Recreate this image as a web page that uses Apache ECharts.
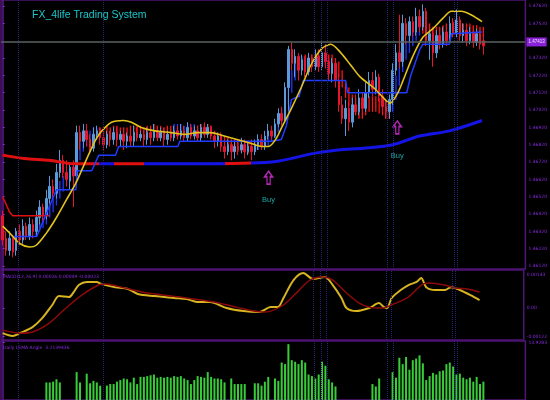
<!DOCTYPE html>
<html>
<head>
<meta charset="utf-8">
<script src="https://cdn.jsdelivr.net/npm/echarts@6/dist/echarts.min.js"></script>
<style>
  html, body { margin: 0; padding: 0; background: #000; }
  #chart { width: 550px; height: 400px; }
</style>
</head>
<body>
<div id="chart"></div>
<script>
// bar slots on the time axis (last ones empty, right margin of the terminal)
const slotCount = 156;
const slots = Array.from({ length: slotCount }, (_, i) => String(i));

// price axis labels
const priceTicks = [1.4612, 1.4622, 1.4632, 1.4642, 1.4652, 1.4662, 1.4672, 1.4682,
  1.4692, 1.4702, 1.4712, 1.4722, 1.4732, 1.4752, 1.4762];
const lastPrice = 1.47413;

// candles: [open, close, low, high]
const candles = [
  [1.4641,1.4627,1.4624,1.4644],[1.4628,1.4621,1.4618,1.4632],[1.4621,1.4628,1.4618,1.4632],
  [1.4628,1.4620,1.4617,1.4630],[1.4621,1.4632,1.4618,1.4634],[1.4632,1.4627,1.4624,1.4636],
  [1.4627,1.4635,1.4625,1.4639],[1.4635,1.4629,1.4627,1.4637],[1.4629,1.4636,1.4627,1.4640],
  [1.4636,1.4632,1.4628,1.4639],[1.4632,1.4640,1.4629,1.4644],[1.4640,1.4646,1.4636,1.4650],
  [1.4646,1.4641,1.4637,1.4648],[1.4641,1.4651,1.4639,1.4656],[1.4651,1.4658,1.4648,1.4664],
  [1.4658,1.4654,1.4650,1.4662],[1.4654,1.4666,1.4651,1.4671],[1.4666,1.4673,1.4663,1.4679],
  [1.4673,1.4666,1.4663,1.4676],[1.4666,1.4662,1.4658,1.4673],[1.4661,1.4669,1.4656,1.4671],
  [1.4669,1.4664,1.4646,1.4673],[1.4664,1.4689,1.4662,1.4693],[1.4689,1.4684,1.4679,1.4693],
  [1.4684,1.4690,1.4680,1.4694],[1.4690,1.4685,1.4681,1.4694],[1.4685,1.4680,1.4677,1.4688],
  [1.4680,1.4688,1.4678,1.4692],[1.4688,1.4690,1.4685,1.4693],[1.4690,1.4686,1.4682,1.4692],
  [1.4686,1.4682,1.4679,1.4689],[1.4682,1.4688,1.4680,1.4690],[1.4688,1.4685,1.4681,1.4690],
  [1.4685,1.4689,1.4682,1.4692],[1.4689,1.4685,1.4681,1.4692],[1.4685,1.4688,1.4681,1.4690],
  [1.4688,1.4684,1.4679,1.4692],[1.4684,1.4687,1.4680,1.4689],[1.4687,1.4684,1.4681,1.4690],
  [1.4684,1.4689,1.4681,1.4693],[1.4689,1.4686,1.4684,1.4692],[1.4686,1.4688,1.4684,1.4690],
  [1.4688,1.4685,1.4681,1.4690],[1.4685,1.4689,1.4682,1.4692],[1.4689,1.4686,1.4682,1.4692],
  [1.4686,1.4690,1.4684,1.4694],[1.4690,1.4686,1.4684,1.4693],[1.4686,1.4689,1.4684,1.4692],
  [1.4689,1.4685,1.4681,1.4692],[1.4685,1.4688,1.4682,1.4690],[1.4688,1.4686,1.4684,1.4690],
  [1.4686,1.4690,1.4684,1.4693],[1.4690,1.4687,1.4685,1.4693],[1.4687,1.4690,1.4685,1.4694],
  [1.4690,1.4686,1.4684,1.4693],[1.4686,1.4692,1.4684,1.4695],[1.4692,1.4687,1.4685,1.4694],
  [1.4687,1.4690,1.4685,1.4693],[1.4690,1.4686,1.4684,1.4693],[1.4686,1.4692,1.4684,1.4694],
  [1.4692,1.4688,1.4686,1.4695],[1.4688,1.4692,1.4686,1.4694],[1.4692,1.4687,1.4685,1.4693],
  [1.4687,1.4684,1.4680,1.4689],[1.4684,1.4687,1.4681,1.4689],[1.4687,1.4681,1.4678,1.4689],
  [1.4681,1.4678,1.4674,1.4685],[1.4678,1.4682,1.4676,1.4685],[1.4682,1.4678,1.4673,1.4685],
  [1.4678,1.4681,1.4674,1.4684],[1.4681,1.4679,1.4676,1.4685],[1.4679,1.4682,1.4677,1.4686],
  [1.4682,1.4678,1.4674,1.4685],[1.4678,1.4681,1.4676,1.4684],[1.4681,1.4678,1.4673,1.4685],
  [1.4678,1.4682,1.4676,1.4685],[1.4682,1.4685,1.4679,1.4688],[1.4685,1.4681,1.4679,1.4688],
  [1.4681,1.4687,1.4679,1.4690],[1.4687,1.4690,1.4685,1.4694],[1.4690,1.4687,1.4685,1.4693],
  [1.4687,1.4694,1.4686,1.4697],[1.4694,1.4700,1.4692,1.4703],[1.4700,1.4696,1.4693,1.4704],
  [1.4696,1.4715,1.4695,1.4718],[1.4715,1.4737,1.4701,1.4739],[1.4737,1.4729,1.4725,1.4741],
  [1.4729,1.4733,1.4721,1.4737],[1.4733,1.4725,1.4719,1.4735],[1.4725,1.4731,1.4722,1.4734],
  [1.4731,1.4724,1.4721,1.4733],[1.4724,1.4732,1.4722,1.4735],[1.4732,1.4727,1.4724,1.4734],
  [1.4727,1.4733,1.4725,1.4737],[1.4733,1.4727,1.4724,1.4737],[1.4727,1.4735,1.4725,1.4741],
  [1.4735,1.4730,1.4726,1.4740],[1.4730,1.4723,1.4719,1.4733],[1.4723,1.4729,1.4718,1.4732],
  [1.4729,1.4719,1.4715,1.4731],[1.4719,1.4705,1.4701,1.4723],[1.4705,1.4697,1.4694,1.4710],
  [1.4697,1.4703,1.4687,1.4708],[1.4703,1.4695,1.4690,1.4707],[1.4695,1.4705,1.4692,1.4709],
  [1.4705,1.4701,1.4699,1.4711],[1.4701,1.4709,1.4699,1.4714],[1.4709,1.4703,1.4700,1.4712],
  [1.4703,1.4712,1.4701,1.4718],[1.4712,1.4719,1.4709,1.4724],[1.4719,1.4714,1.4710,1.4724],
  [1.4714,1.4721,1.4711,1.4725],[1.4721,1.4710,1.4707,1.4723],[1.4710,1.4704,1.4701,1.4714],
  [1.4704,1.4701,1.4697,1.4708],[1.4701,1.4708,1.4697,1.4711],[1.4708,1.4725,1.4705,1.4729],
  [1.4725,1.4735,1.4722,1.4740],[1.4735,1.4730,1.4726,1.4757],[1.4730,1.4752,1.4727,1.4757],
  [1.4752,1.4745,1.4740,1.4755],[1.4745,1.4753,1.4741,1.4756],[1.4753,1.4747,1.4744,1.4756],
  [1.4747,1.4756,1.4745,1.4761],[1.4756,1.4750,1.4747,1.4760],[1.4750,1.4759,1.4748,1.4763],
  [1.4759,1.4742,1.4739,1.4761],[1.4742,1.4746,1.4731,1.4748],[1.4746,1.4735,1.4727,1.4748],
  [1.4735,1.4745,1.4732,1.4748],[1.4745,1.4740,1.4737,1.4749],[1.4740,1.4747,1.4738,1.4750],
  [1.4747,1.4742,1.4739,1.4749],[1.4742,1.4752,1.4740,1.4756],[1.4752,1.4746,1.4744,1.4755],
  [1.4746,1.4754,1.4744,1.4760],[1.4754,1.4745,1.4742,1.4756],[1.4745,1.4748,1.4741,1.4752],
  [1.4748,1.4742,1.4739,1.4750],[1.4742,1.4747,1.4740,1.4750],[1.4747,1.4741,1.4738,1.4749],
  [1.4741,1.4746,1.4739,1.4749],[1.4746,1.4740,1.4737,1.4748],[1.4742,1.4739,1.4734,1.4749]
];

// smoothed band (stripes between two levels): [bar, top, bottom, dir] dir 1 = blue, -1 = red
const bandRows = [
  [10,1.4634,1.4629,1],[11,1.4637,1.4632,1],[12,1.4640,1.4634,1],[13,1.4643,1.4636,1],
  [14,1.4648,1.4640,1],[15,1.4651,1.4643,1],[16,1.4656,1.4647,1],[17,1.4661,1.4651,1],
  [18,1.4664,1.4655,1],[19,1.4666,1.4658,1],[20,1.4669,1.4661,1],[21,1.4670,1.4663,1],
  [22,1.4679,1.4666,1],[23,1.4685,1.4673,1],[24,1.4687,1.4678,1],[25,1.4689,1.4681,1],
  [26,1.4690,1.4684,1],[27,1.4692,1.4685,1],[28,1.4692,1.4686,1],
  [29,1.4692,1.4687,-1],[30,1.4692,1.4686,-1],[31,1.4693,1.4686,-1],[32,1.4692,1.4685,-1],
  [33,1.4693,1.4686,-1],[34,1.4693,1.4686,-1],[35,1.4692,1.4686,-1],[36,1.4692,1.4685,-1],
  [37,1.4692,1.4685,-1],[38,1.4693,1.4686,-1],[39,1.4693,1.4686,-1],[40,1.4693,1.4687,-1],
  [41,1.4693,1.4687,-1],[42,1.4692,1.4686,-1],[43,1.4693,1.4686,-1],[44,1.4693,1.4687,-1],
  [45,1.4694,1.4687,-1],[46,1.4693,1.4687,-1],[47,1.4693,1.4687,-1],[48,1.4692,1.4686,-1],
  [49,1.4693,1.4686,-1],[50,1.4693,1.4687,-1],[51,1.4694,1.4687,1],[52,1.4694,1.4688,1],
  [53,1.4694,1.4688,1],[54,1.4693,1.4687,1],[55,1.4694,1.4688,1],[56,1.4694,1.4688,1],
  [57,1.4694,1.4688,1],[58,1.4693,1.4687,-1],[59,1.4694,1.4688,-1],[60,1.4694,1.4688,-1],
  [61,1.4694,1.4688,-1],[62,1.4693,1.4687,-1],[63,1.4690,1.4685,-1],[64,1.4689,1.4684,-1],
  [65,1.4688,1.4682,-1],[66,1.4687,1.4681,-1],[67,1.4686,1.4680,-1],[68,1.4685,1.4679,-1],
  [69,1.4685,1.4678,-1],[70,1.4684,1.4678,-1],[71,1.4684,1.4678,-1],[72,1.4684,1.4677,-1],
  [73,1.4684,1.4677,-1],[74,1.4684,1.4678,-1],[75,1.4684,1.4678,-1],[76,1.4685,1.4679,1],
  [77,1.4685,1.4680,1],[78,1.4686,1.4681,1],[79,1.4687,1.4681,1],[80,1.4689,1.4684,1],
  [81,1.4693,1.4686,1],[82,1.4697,1.4689,1],[83,1.4703,1.4694,1],[84,1.4710,1.4699,1],
  [85,1.4719,1.4705,1],[86,1.4725,1.4712,1],[87,1.4730,1.4719,1],[88,1.4732,1.4723,1],
  [89,1.4733,1.4725,1],[90,1.4734,1.4726,-1],[91,1.4734,1.4727,-1],[92,1.4734,1.4727,-1],
  [93,1.4734,1.4727,-1],[94,1.4734,1.4727,-1],[95,1.4735,1.4728,-1],[96,1.4735,1.4728,-1],
  [97,1.4734,1.4727,-1],[98,1.4734,1.4726,-1],[99,1.4732,1.4724,-1],[100,1.4730,1.4721,-1],
  [101,1.4725,1.4715,-1],[102,1.4719,1.4709,-1],[103,1.4715,1.4704,-1],[104,1.4711,1.4701,-1],
  [105,1.4709,1.4699,-1],[106,1.4708,1.4697,-1],[107,1.4708,1.4697,-1],[108,1.4709,1.4699,-1],
  [109,1.4710,1.4701,-1],[110,1.4710,1.4701,-1],[111,1.4710,1.4701,-1],[112,1.4709,1.4700,-1],
  [113,1.4708,1.4699,-1],[114,1.4707,1.4697,-1],[115,1.4707,1.4697,-1],[116,1.4712,1.4701,1],
  [117,1.4722,1.4708,1],[118,1.4731,1.4716,1],[119,1.4738,1.4724,1],[120,1.4742,1.4731,1],
  [121,1.4746,1.4735,1],[122,1.4748,1.4739,1],[123,1.4750,1.4742,1],[124,1.4752,1.4745,1],
  [125,1.4753,1.4746,-1],[126,1.4753,1.4746,-1],[127,1.4752,1.4745,-1],[128,1.4750,1.4744,-1],
  [129,1.4750,1.4744,-1],[130,1.4750,1.4744,-1],[131,1.4751,1.4745,-1],[132,1.4752,1.4745,-1],
  [133,1.4752,1.4746,-1],[134,1.4753,1.4746,-1],[135,1.4753,1.4746,-1],[136,1.4753,1.4746,-1],
  [137,1.4752,1.4746,-1],[138,1.4752,1.4746,-1],[139,1.4752,1.4746,-1],[140,1.4751,1.4745,-1],
  [141,1.4751,1.4745,-1],[142,1.4750,1.4744,-1],[143,1.4750,1.4744,-1]
];

// moving averages read at points: [bar, price]
const yellowMA = [
  [0,1.4635],[2.1,1.4631],[5.1,1.4625],[8,1.4623],[10,1.4624],[13,1.4631],[16,1.4640],
  [18.9,1.4650],[21.8,1.4660],[24.8,1.4673],[27.7,1.4685],[29.5,1.4690],[32.4,1.4695],
  [35.9,1.4696],[38.3,1.4695],[41.2,1.4692],[45.3,1.4690],[50,1.4689],[54.1,1.4688],
  [58,1.4689],[61.8,1.4689],[65.9,1.4687],[69.7,1.4685],[73.5,1.4683],[77.1,1.4681],
  [79.1,1.4681],[81.5,1.4686],[83,1.4692],[85.9,1.4703],[88.8,1.4715],[91.7,1.4728],
  [94.7,1.4737],[97.6,1.4740],[100.6,1.4735],[103.5,1.4728],[106.4,1.4721],[110.3,1.4715],
  [113.8,1.4708],[115.2,1.4706],[117.3,1.4711],[119.1,1.4719],[122,1.4733],[125,1.4744],
  [128,1.4749],[131,1.4755],[133.5,1.4759],[136.4,1.4759],[139.3,1.4757],[142.6,1.4753]
];
const blueStep = [
  [3,1.4629],[10.1,1.4629],[16,1.4656],[21.8,1.4656],[22.1,1.4667],[26.5,1.4667],
  [28.6,1.4676],[33.6,1.4676],[34.5,1.4681],[52.1,1.4681],[52.7,1.4684],[80,1.4684],
  [82.9,1.4685],[84.4,1.4693],[85.9,1.4708],[88.2,1.4710],[89.4,1.4719],[102,1.4719],
  [102.6,1.4712],[120.2,1.4712],[121.4,1.4722],[124.1,1.4737],[125,1.4740],[132.9,1.4740],
  [133.5,1.4746],[142.6,1.4747]
];
const longMA = [
  [0,1.4676],[6.5,1.4674],[13.9,1.4673],[21.2,1.4671],[28.6,1.4671],[58,1.4671],[80,1.4672],
  [92.6,1.4677],[99.7,1.4679],[107.3,1.4680],[116.1,1.4682],[124,1.4687],[132.9,1.4690],
  [142.6,1.4696]
];
const redStop = [[0,1.4652],[2.1,1.4643],[3,1.4641],[13.9,1.4641]];
const buySignals = [[79.1,1.4663], [117.4,1.4692]];

// MACD(12,26,9): [bar, value]
const macdMain = [
  [0,-0.00107],[3,-0.00119],[5.1,-0.00107],[8.9,-0.00081],[11.8,-0.00043],[14.8,0.00013],
  [16.8,0.00051],[19.8,0.00047],[21.2,0.00068],[22.7,0.00098],[25.1,0.00111],[28,0.00111],
  [29.5,0.00102],[33.6,0.00089],[37.4,0.00081],[40.3,0.00060],[45.3,0.00051],[51.2,0.00043],
  [55,0.00038],[58,0.00026],[61.8,0.00026],[66.8,0],[71.8,-0.00013],[76.5,-0.00017],
  [80,0.00004],[82.1,0.00004],[83.8,0.00043],[86.8,0.00119],[89.7,0.00149],[92.6,0.00124],
  [96.1,0.00132],[98.5,0.00098],[101.1,0.00043],[102.6,0],[105.5,-0.00013],[109.4,0],
  [112.3,0.00021],[113.8,0.00004],[114.7,0],[116.1,0.00043],[118.8,0.00077],[121.1,0.00098],
  [123.5,0.00111],[124.9,0.00128],[126.4,0.00089],[129.1,0.00077],[132,0.00077],
  [133.8,0.00089],[136.4,0.00077],[139.6,0.00055],[142.3,0.00034]
];
const macdSignal = [
  [0,-0.00094],[5.1,-0.00107],[8.9,-0.00102],[13.9,-0.00064],[18.9,0],[23.6,0.00055],
  [28.6,0.00098],[30.6,0.00102],[36.5,0.00085],[43.3,0.00064],[53,0.00047],[63,0.00026],
  [69.7,0.00004],[77.6,-0.00017],[80,-0.00013],[83.8,0.00013],[87.9,0.00068],[91.7,0.00119],
  [95.6,0.00132],[98.5,0.00119],[102.6,0.00064],[106.4,0.00021],[109.4,0.00004],[113.2,0],
  [117.3,0.00021],[121.1,0.00047],[124.9,0.00098],[127,0.00107],[132,0.00098],
  [134.9,0.00085],[138.7,0.00081],[142.3,0.00068]
];
const macdTicks = [0.00143, 0, -0.00122];

// Daily LSMA angle, one value per bar (null = nothing drawn)
const lsmaAngle = [
  null,null,null,null,null,null,null,null,null,null,null,null,null,
  4.26,4.26,4.45,5.03,4.26,null,null,null,null,6.77,4.26,null,6.39,4.06,4.64,4.26,3.48,
  null,3.48,3.87,3.87,4.45,4.84,5.22,5.03,4.26,5.42,3.87,5.61,5.61,5.80,6.00,6.19,5.42,
  5.61,5.42,5.61,5.42,5.80,5.61,5.80,5.22,4.84,3.87,4.84,5.80,5.61,5.42,6.77,5.61,5.22,
  5.22,5.03,4.26,null,5.22,3.87,3.87,3.87,3.87,null,null,4.06,4.06,3.48,4.45,5.61,null,
  5.22,4.64,9.09,8.71,13.55,9.67,9.29,8.71,9.67,9.09,6.19,5.80,5.22,6.19,9.29,8.32,5.03,
  4.26,3.29,null,null,null,null,null,null,null,null,null,null,3.87,3.29,5.22,null,null,
  null,6.77,5.42,10.26,8.71,10.45,7.35,9.67,10.06,10.84,8.90,4.84,5.80,6.58,6.19,6.97,
  7.16,8.71,9.09,8.13,6.19,6.39,5.42,5.03,5.42,4.45,5.61,3.87,4.45
];
const angleTicks = [13.9283];

// session separators (bar positions)
const separators = [4.5, 30, 92.6, 94.7, 96.7, 114.4, 116.1, 134.3, 135.2];

const purple = '#8a2be2';
const axisFont = { color: purple, fontSize: 4.5, fontFamily: 'DejaVu Sans', margin: 3 };
const sepLines = {
  silent: true, symbol: 'none', animation: false, precision: 5,
  label: { show: false },
  lineStyle: { color: '#262670', type: 'dotted', width: 1 },
  data: separators.map(v => ({ xAxis: v }))
};
const valueX = (grid) => ({
  type: 'value', gridIndex: grid, min: -0.5, max: slotCount - 0.5, show: false
});

const chart = echarts.init(document.getElementById('chart'));
chart.setOption({
  backgroundColor: '#000',
  animation: false,
  title: [
    { text: 'FX_4life Trading System', left: 32, top: 10, padding: 0,
      textStyle: { color: '#19c6cc', fontSize: 10.5, fontWeight: 'normal', fontFamily: 'Liberation Sans' } },
    { text: 'MACD(12,26,9) 0.00026 0.00049 -0.00023', left: 3, top: 274, padding: 0,
      textStyle: { color: purple, fontSize: 4.5, fontWeight: 'normal', fontFamily: 'DejaVu Sans' } },
    { text: 'Daily LSMA Angle  3.2139436', left: 3, top: 345, padding: 0,
      textStyle: { color: purple, fontSize: 4.5, fontWeight: 'normal', fontFamily: 'DejaVu Sans' } }
  ],
  grid: [
    { left: 1, right: 18, top: 0, height: 269, show: true, borderColor: '#4f1475', borderWidth: 1.5 },
    { left: 1, right: 18, top: 270, height: 70, show: true, borderColor: '#4f1475', borderWidth: 1.5 },
    { left: 1, right: 18, top: 341, height: 74, show: true, borderColor: '#4f1475', borderWidth: 1.5 }
  ],
  xAxis: [
    { type: 'category', gridIndex: 0, data: slots, show: false },
    valueX(0),
    valueX(1),
    { type: 'category', gridIndex: 2, data: slots, show: false },
    valueX(2)
  ],
  yAxis: [
    { type: 'value', gridIndex: 0, position: 'right', min: 1.46103, max: 1.47655,
      splitLine: { show: false },
      axisLine: { show: true, lineStyle: { color: '#5d1a8a', width: 1.5 } },
      axisTick: { show: true, length: 2, customValues: priceTicks, lineStyle: { color: purple } },
      axisLabel: Object.assign({ customValues: priceTicks, formatter: v => v.toFixed(5) }, axisFont) },
    { type: 'value', gridIndex: 1, position: 'right', min: -0.00136, max: 0.00162,
      splitLine: { show: false },
      axisLine: { show: true, lineStyle: { color: '#5d1a8a', width: 1.5 } },
      axisTick: { show: true, length: 2, customValues: macdTicks, lineStyle: { color: purple } },
      axisLabel: Object.assign({ customValues: macdTicks,
        formatter: v => (v === 0 ? '0.00' : v.toFixed(5)) }, axisFont) },
    { type: 'value', gridIndex: 2, position: 'right', min: 0, max: 14.32,
      splitLine: { show: false },
      axisLine: { show: true, lineStyle: { color: '#5d1a8a', width: 1.5 } },
      axisTick: { show: true, length: 2, customValues: angleTicks, lineStyle: { color: purple } },
      axisLabel: Object.assign({ customValues: angleTicks, formatter: v => v.toFixed(4) }, axisFont) }
  ],
  visualMap: [{
    type: 'piecewise', show: false, dimension: 0, seriesIndex: 2,
    pieces: [
      { lt: 28.6, color: '#e01010' },
      { gte: 28.6, lt: 33, color: '#1414e6' },
      { gte: 33, lt: 42, color: '#e01010' },
      { gte: 42, lt: 66, color: '#1414e6' },
      { gte: 66, lt: 74, color: '#e01010' },
      { gte: 74, color: '#1414e6' }
    ]
  }],
  series: [
    { type: 'candlestick', xAxisIndex: 0, yAxisIndex: 0, data: candles, barWidth: 2,
      itemStyle: { color: '#5a9ad8', color0: '#e8152f', borderColor: '#5a9ad8', borderColor0: '#e8152f', borderWidth: 1 } },
    { type: 'custom', xAxisIndex: 1, yAxisIndex: 0, data: bandRows,
      encode: { x: 0, y: [1, 2] },
      renderItem: (params, api) => {
        const a = api.coord([api.value(0), api.value(1)]);
        const b = api.coord([api.value(0), api.value(2)]);
        return { type: 'line', shape: { x1: a[0], y1: a[1], x2: b[0], y2: b[1] },
          style: { stroke: api.value(3) > 0 ? '#2238ff' : '#ff1414', lineWidth: 1.3 } };
      } },
    { type: 'line', xAxisIndex: 1, yAxisIndex: 0, data: longMA, smooth: 0.3, symbol: 'none',
      lineStyle: { width: 3 } },
    { type: 'line', xAxisIndex: 1, yAxisIndex: 0, data: redStop, symbol: 'none',
      lineStyle: { color: '#e01010', width: 1.5 } },
    { type: 'line', xAxisIndex: 1, yAxisIndex: 0, data: blueStep, symbol: 'none',
      lineStyle: { color: '#1f3cff', width: 1.5 }, markLine: sepLines },
    { type: 'line', xAxisIndex: 1, yAxisIndex: 0, data: yellowMA, smooth: 0.3, symbol: 'none',
      lineStyle: { color: '#e2c21c', width: 1.6 },
      markLine: {
        silent: true, symbol: 'none', animation: false, precision: 5,
        lineStyle: { color: '#586262', type: 'solid', width: 1.5 },
        label: { position: 'end', formatter: lastPrice.toFixed(5), color: '#f0e0ff',
          backgroundColor: '#8a22d8', fontSize: 4.5, padding: [2, 2], distance: 1 },
        data: [{ yAxis: lastPrice }]
      } },
    { type: 'scatter', xAxisIndex: 1, yAxisIndex: 0,
      data: buySignals.map((p, i) => ({ value: p, label: { distance: i === 0 ? 11 : 17 } })),
      symbol: 'path://M5,0 L10,6 L7,6 L7,14 L3,14 L3,6 L0,6 Z', symbolSize: [8, 13],
      itemStyle: { color: 'rgba(0,0,0,0)', borderColor: '#e232e2', borderWidth: 1.5 },
      label: { show: true, position: 'bottom', formatter: 'Buy',
        color: '#27cccc', fontSize: 7.5, fontFamily: 'Liberation Sans' } },
    { type: 'line', xAxisIndex: 2, yAxisIndex: 1, data: macdMain, smooth: 0.3, symbol: 'none',
      lineStyle: { color: '#d8b420', width: 2 }, markLine: sepLines },
    { type: 'line', xAxisIndex: 2, yAxisIndex: 1, data: macdSignal, smooth: 0.3, symbol: 'none',
      lineStyle: { color: '#8c0a0a', width: 1.5 } },
    { type: 'bar', xAxisIndex: 3, yAxisIndex: 2, data: lsmaAngle, barWidth: 2,
      itemStyle: { color: '#38cc38' } },
    { type: 'line', xAxisIndex: 4, yAxisIndex: 2, data: [], markLine: sepLines }
  ]
});
</script>
</body>
</html>
